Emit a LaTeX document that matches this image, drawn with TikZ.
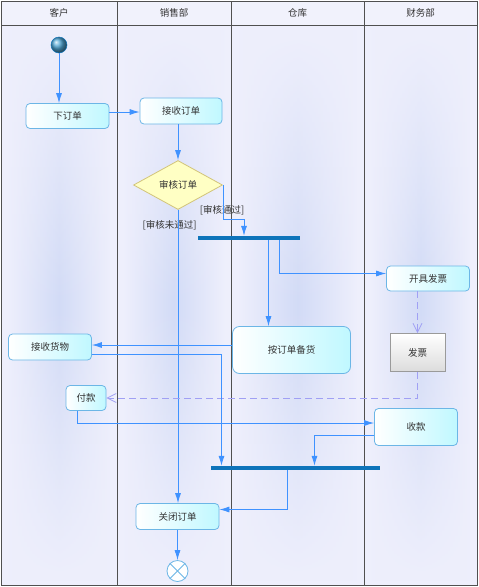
\documentclass[tikz,border=0pt]{standalone}
\usepackage{fontspec}
\newfontfamily\cjk{Noto Sans CJK SC}
\usepackage{tikz}
\usetikzlibrary{arrows.meta}
\usetikzlibrary{shapes}
\usetikzlibrary{calc}
\usetikzlibrary{fadings}

\definecolor{lane_bg}{HTML}{EEEFFC}
\definecolor{lane_mid}{HTML}{D2DBF6}
\definecolor{head_bg}{HTML}{F1F2FC}
\definecolor{frame_gray}{HTML}{505050}
\definecolor{act_border}{HTML}{6CB6E6}
\definecolor{act_fill}{HTML}{C0F8FF}
\definecolor{dec_fill}{HTML}{FFFFC4}
\definecolor{dec_border}{HTML}{D2C47A}
\definecolor{bar_blue}{HTML}{0E74BA}
\definecolor{ball_blue}{HTML}{4FA6D4}
\definecolor{line_blue}{HTML}{3F92FF}
\definecolor{dash_blue}{HTML}{A0A0F4}
\definecolor{obj_border}{HTML}{9A9A9A}
\definecolor{obj_fill}{HTML}{DCDCDC}

\tikzfading[name=fade_tb, top color=transparent!100, bottom color=transparent!100, middle color=transparent!0]

\begin{document}
\begin{tikzpicture}[x=1pt, y=-1pt, font=\cjk\fontsize{9.5}{11}\selectfont,
        act_style/.style={rectangle, rounded corners=4pt, draw=act_border, line width=0.8pt,
            left color=white, right color=act_fill, inner sep=1pt, text=black!80},
        dec_style/.style={diamond, aspect=1.8, draw=dec_border, line width=0.8pt,
            fill=dec_fill, inner sep=0pt, minimum width=89, minimum height=49, text=black!80},
        obj_style/.style={rectangle, draw=obj_border, line width=0.8pt,
            top color=white, bottom color=obj_fill, inner sep=1pt, text=black!80},
        bar_style/.style={rectangle, fill=bar_blue, inner sep=0pt, minimum height=4},
        guard_style/.style={text=black!80, inner sep=1pt},
        edge_style/.style={draw=line_blue, line width=0.8pt, -{Latex[length=10pt,width=6pt]}},
        dash_style/.style={draw=dash_blue, line width=0.8pt, dash pattern=on 7pt off 4pt,
            -{Straight Barb[length=9pt,width=9pt]}}]

        \useasboundingbox (0,0) rectangle (479,587);

        % lanes
        \foreach \xa/\xb in {1/117, 117/231, 231/364, 364/477} {
            \fill [lane_bg] (\xa,25) rectangle (\xb,585);
            \shade [left color=lane_bg, right color=lane_bg, middle color=lane_mid, path fading=fade_tb]
                (\xa+6,30) rectangle (\xb-6,580);
            \fill [head_bg] (\xa,1) rectangle (\xb,25);
        }
        \draw [frame_gray, line width=0.8pt] (1,1) rectangle (477,585);
        \draw [frame_gray, line width=0.8pt] (1,25) -- (477,25);
        \foreach \x in {117, 231, 364}
            \draw [frame_gray, line width=0.8pt] (\x,1) -- (\x,585);

        \node [text=black!80] (lane1) at (59,13) {客户};
        \node [text=black!80] (lane2) at (174,13) {销售部};
        \node [text=black!80] (lane3) at (297.5,13) {仓库};
        \node [text=black!80] (lane4) at (420.5,13) {财务部};

        % activities
        \node [circle, shading=ball, ball color=ball_blue, draw=bar_blue, line width=0.5pt, minimum size=16, inner sep=0pt] (start) at (59,45) {};

        \node [act_style, minimum width=83, minimum height=25] (order) at (67.5,116) {下订单};

        \node [act_style, minimum width=82, minimum height=26] (accept) at (181,111) {接收订单};

        \node [dec_style] (check) at (178,185) {审核订单};

        \node [bar_style, minimum width=102] (bar1) at (249,238) {};

        \node [act_style, minimum width=118, minimum height=47, rounded corners=7pt] (stock) at (291.5,350) {按订单备货};

        \node [act_style, minimum width=83, minimum height=25] (bill) at (428,278.5) {开具发票};

        \node [obj_style, minimum width=55, minimum height=38] (invoice) at (417.5,352.5) {发票};

        \node [act_style, minimum width=83, minimum height=26] (receive) at (50,347) {接收货物};

        \node [act_style, minimum width=40, minimum height=25] (pay) at (86,398) {付款};

        \node [act_style, minimum width=83, minimum height=37] (collect) at (416,427) {收款};

        \node [bar_style, minimum width=169] (bar2) at (295.5,468) {};

        \node [act_style, minimum width=83, minimum height=26] (close) at (177.5,516.5) {关闭订单};

        \node [circle, draw=act_border, line width=0.8pt, fill=white, minimum size=21, inner sep=0pt] (finish) at (177.5,571) {};
        \draw [act_border, line width=0.8pt] (finish.45) -- (finish.225);
        \draw [act_border, line width=0.8pt] (finish.135) -- (finish.315);

        \node [guard_style] (pass) at (222,210) {[审核通过]};
        \node [guard_style] (fail) at (169.5,225) {[审核未通过]};

        \coordinate (pass_bend) at (244,219);

        % flows
        \draw [edge_style] (start) -- (start |- order.north);

        \draw [edge_style] (order.east |- 0,112) -- (accept.west |- 0,112);

        \draw [edge_style] (check |- accept.south) -- (check.north);

        \draw [edge_style] (check.east) |- (pass_bend) -- (pass_bend |- bar1.north);

        \draw [edge_style] (check.south) -- (check.south |- close.north);

        \draw [edge_style] ([xshift=-23]stock.north |- bar1.south) -- ([xshift=-23]stock.north);

        \draw [edge_style] ([xshift=30]bar1.south) |- ([yshift=5]bill.west);

        \draw [dash_style] (invoice |- bill.south) -- (invoice.north);

        \draw [dash_style] (invoice.south) |- (pay.east);

        \draw [edge_style] ([yshift=2]stock.west |- receive.east) -- ([yshift=2]receive.east);

        \draw [edge_style] ([yshift=-7]receive.east) -| ([xshift=-74]bar2.north);

        \draw [edge_style] ([xshift=-9]pay.south) |- ([yshift=4]collect.west);

        \draw [edge_style] ([yshift=-8]collect.west) -| ([xshift=19]bar2.north);

        \draw [edge_style] ([xshift=-8]bar2.south) |- ([yshift=7]close.east);

        \draw [edge_style] (close.south) -- (finish.north);

        \end{tikzpicture}
\end{document}
